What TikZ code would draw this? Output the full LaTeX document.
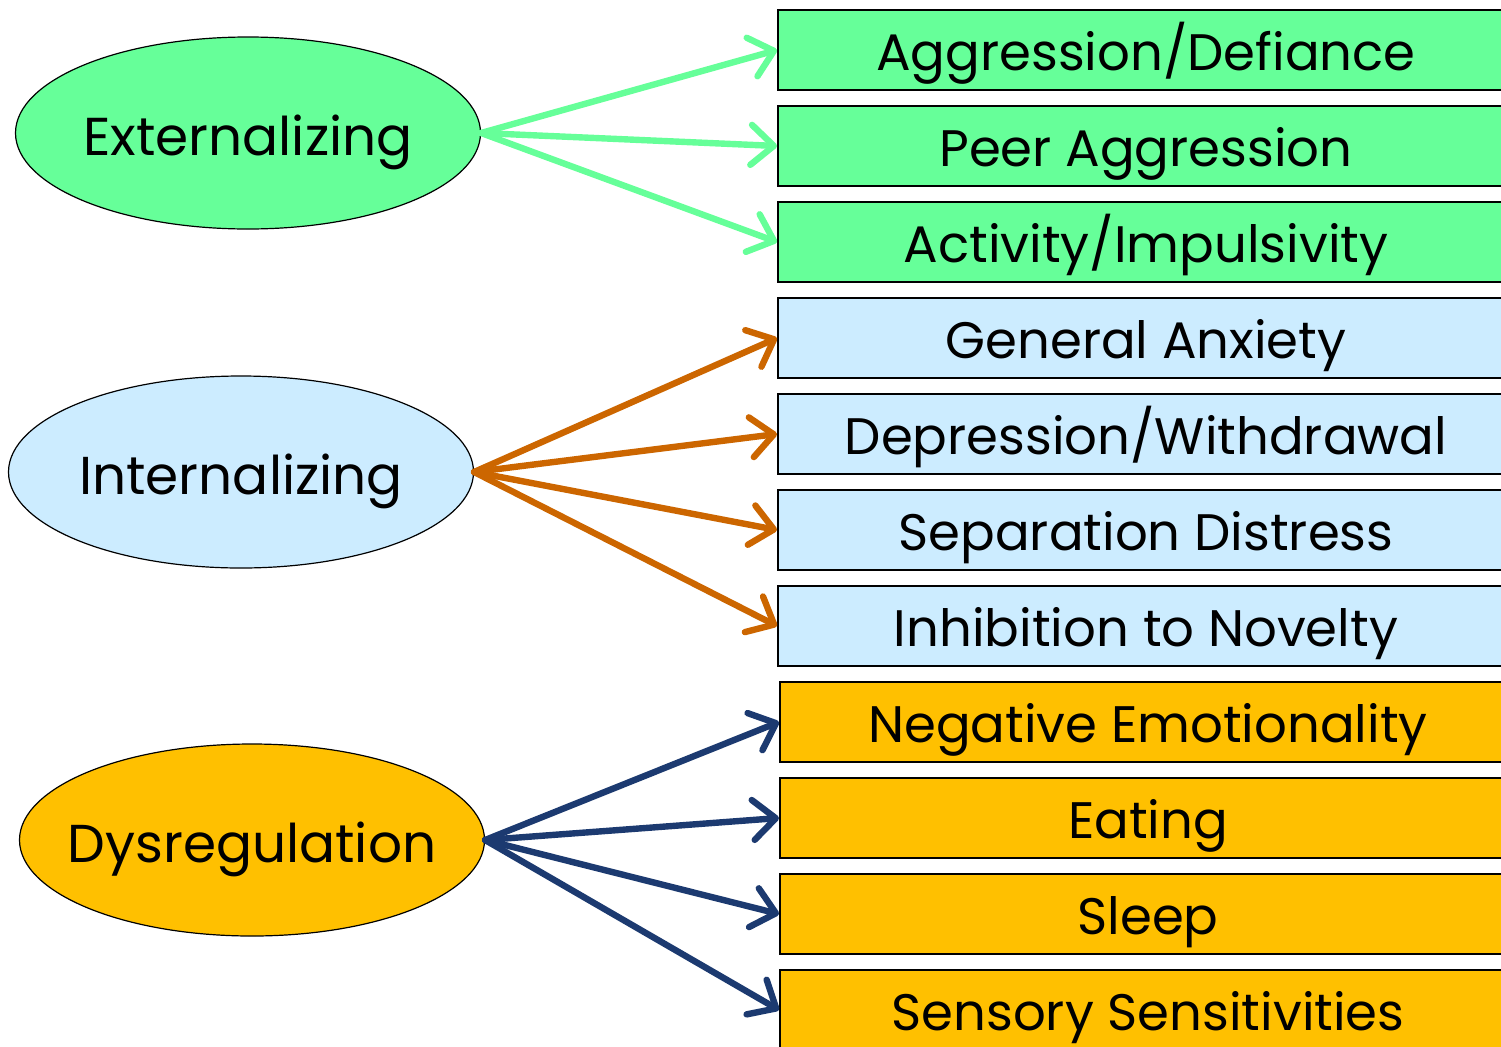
\documentclass[tikz,border=0pt]{standalone}
\usepackage{fontspec}
\setmainfont{Poppins}
\usetikzlibrary{arrows.meta,shapes.geometric}
\definecolor{grn}{HTML}{66FF99}
\definecolor{lblue}{HTML}{CCECFF}
\definecolor{orng}{HTML}{FFC000}
\definecolor{grnarrow}{HTML}{66FF99}
\definecolor{brnarrow}{HTML}{CC6600}
\definecolor{navyarrow}{HTML}{1C3A70}
\tikzset{
  cat/.style={ellipse, draw=black, line width=0.9pt, minimum width=348.75pt, minimum height=144pt, inner xsep=-40pt, inner ysep=0pt,
    font=\fontsize{40}{44}\selectfont, text height=34pt, text depth=0pt},
  item/.style={rectangle, draw=black, line width=1.5pt, minimum width=552pt, minimum height=60pt, inner sep=0pt,
    font=\fontsize{38.5}{42}\selectfont, text height=31pt, text depth=0pt},
  link/.style={line width=4.8pt, line cap=round, -{Straight Barb[length=17pt, width=30pt, line cap=round, line join=round]}},
}
\begin{document}
\begin{tikzpicture}[x=0.75pt, y=-0.75pt]
\useasboundingbox (0,0) rectangle (1501,1046);
% categories
\node[cat, fill=grn] (ext) at (248,133) {Externalizing};
\node[cat, fill=lblue] (int) at (241,472) {Internalizing};
\node[cat, fill=orng] (dys) at (252,840) {Dysregulation};
% items
\node[item, fill=grn] (a1) at (1146,50) {Aggression/Defiance};
\node[item, fill=grn] (a2) at (1146,146) {Peer Aggression};
\node[item, fill=grn] (a3) at (1146,242) {Activity/Impulsivity};
\node[item, fill=lblue] (b1) at (1146,338) {General Anxiety};
\node[item, fill=lblue] (b2) at (1146,434) {Depression/Withdrawal};
\node[item, fill=lblue] (b3) at (1146,530) {Separation Distress};
\node[item, fill=lblue] (b4) at (1146,626) {Inhibition to Novelty};
\node[item, fill=orng] (c1) at (1148,722) {Negative Emotionality};
\node[item, fill=orng] (c2) at (1148,818) {Eating};
\node[item, fill=orng] (c3) at (1148,914) {Sleep};
\node[item, fill=orng] (c4) at (1148,1010) {Sensory Sensitivities};
% links
\foreach \t in {a1,a2,a3} \draw[link, draw=grnarrow] (ext.east) -- (\t.west);
\foreach \t in {b1,b2,b3,b4} \draw[link, draw=brnarrow] (int.east) -- (\t.west);
\foreach \t in {c1,c2,c3,c4} \draw[link, draw=navyarrow] (dys.east) -- (\t.west);
\end{tikzpicture}
\end{document}
